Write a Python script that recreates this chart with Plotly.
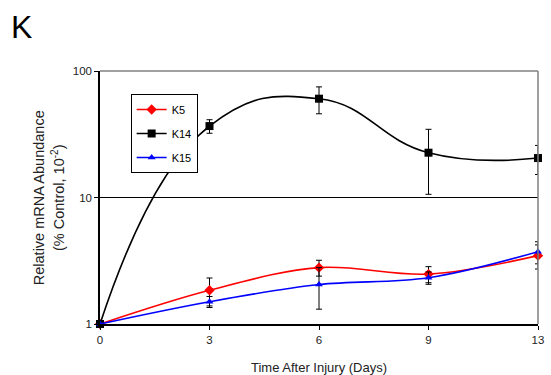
import plotly.graph_objects as go

days = ["0", "3", "6", "9", "13"]
k5 = [1.0, 1.85, 2.79, 2.48, 3.47]
k5_err = [0.0, 0.46, 0.40, 0.36, 0.75]
k14 = [1.0, 36.7, 60.4, 22.6, 20.5]
k14_err = [0.0, 4.5, 14.5, 12.0, 5.3]
k15 = [1.0, 1.50, 2.05, 2.32, 3.73]
k15_err = [0.0, 0.15, 0.74, 0.26, 0.74]

FONT = "Liberation Sans, Arial, sans-serif"

def series(name, y, err, color, symbol, size, smooth):
    return go.Scatter(
        x=days, y=y, name=name, mode="lines+markers", legendgroup=name,
        line=dict(color=color, width=1.6, shape="spline", smoothing=smooth),
        marker=dict(color=color, symbol=symbol, size=size),
        error_y=dict(type="data", array=err, color="black", thickness=1, width=3),
        cliponaxis=False,
    )

fig = go.Figure()
fig.add_trace(series("K5", k5, k5_err, "#ff0000", "diamond", 8, 1.0))
fig.add_trace(series("K14", k14, k14_err, "#000000", "square", 8, 1.3))
fig.add_trace(series("K15", k15, k15_err, "#0000ff", "triangle-up", 7, 1.0))

fig.update_layout(
    width=551, height=375,
    margin=dict(l=100, r=7, t=71, b=51),
    paper_bgcolor="white", plot_bgcolor="white",
    font=dict(family=FONT, size=11, color="black"),
    showlegend=True,
    legend=dict(
        x=(131 - 100) / 443, y=(324 - 94) / 253, xanchor="left", yanchor="top",
        bordercolor="black", borderwidth=1, bgcolor="white",
        font=dict(size=11), itemwidth=30, tracegroupgap=5,
    ),
    xaxis=dict(
        type="category", range=[0, 4], showgrid=False, zeroline=False,
        showline=True, linecolor="black", linewidth=1.5, mirror=False,
        ticks="outside", ticklen=4, tickcolor="black",
        tickfont=dict(size=11.5, color="#222"),
    ),
    yaxis=dict(
        type="log", range=[0, 2], tickvals=[1, 10, 100], ticktext=["1", "10", "100"],
        showgrid=True, gridcolor="black", gridwidth=1,
        showline=True, linecolor="black", linewidth=1.5,
        ticks="outside", ticklen=4, tickcolor="black",
        tickfont=dict(size=11.5, color="#222"), zeroline=False,
    ),
    shapes=[
        dict(type="line", xref="paper", yref="paper", x0=0, x1=1, y0=1, y1=1,
             line=dict(color="#808080", width=1.5)),
        dict(type="line", xref="paper", yref="paper", x0=1, x1=1, y0=0, y1=1,
             line=dict(color="#808080", width=1.5)),
    ],
    annotations=[
        dict(text="K", xref="paper", yref="paper", x=(8 - 100) / 443, y=(324 - 27) / 253,
             xanchor="left", yanchor="middle", showarrow=False, font=dict(size=32)),
        dict(text="Relative mRNA Abundance", xref="paper", yref="paper",
             x=(38 - 100) / 443, y=0.5, textangle=-90, showarrow=False,
             xanchor="center", yanchor="middle", font=dict(size=14.5, color="#222")),
        dict(text="(% Control, 10<sup>-2</sup>)", xref="paper", yref="paper",
             x=(57 - 100) / 443, y=0.5, textangle=-90, showarrow=False,
             xanchor="center", yanchor="middle", font=dict(size=14.5, color="#222")),
        dict(text="Time After Injury (Days)", xref="paper", yref="paper",
             x=0.5, y=(324 - 367) / 253, showarrow=False,
             xanchor="center", yanchor="middle", font=dict(size=13, color="#222")),
    ],
)

fig.write_html("out.html", config={"displayModeBar": False},
               post_script="document.body.style.margin='0';document.body.style.overflow='hidden';")
